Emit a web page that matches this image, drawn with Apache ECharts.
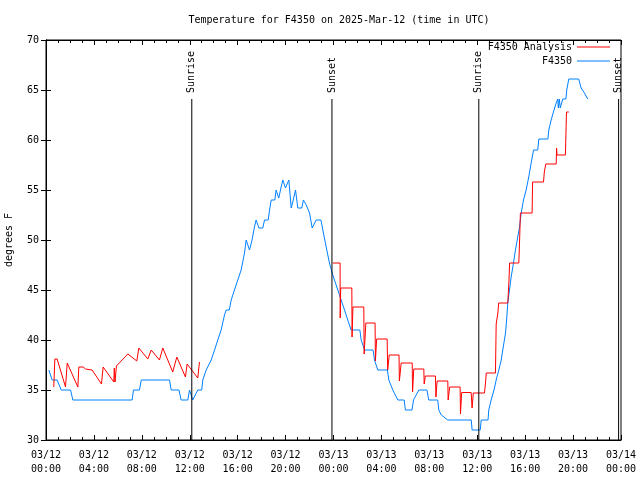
<!DOCTYPE html>
<html>
<head>
<meta charset="utf-8">
<script src="https://cdn.jsdelivr.net/npm/echarts@6/dist/echarts.min.js"></script>
<style>html,body{margin:0;padding:0;background:#fff}#c{width:640px;height:480px}</style>
</head>
<body>
<div id="c"></div>
<script>
// Hours since 2025-03-12 00:00 UTC
var xTickLabels = ['03/12\n00:00','03/12\n04:00','03/12\n08:00','03/12\n12:00','03/12\n16:00','03/12\n20:00','03/13\n00:00','03/13\n04:00','03/13\n08:00','03/13\n12:00','03/13\n16:00','03/13\n20:00','03/14\n00:00'];

var obsHours = [0.24,0.51,0.93,1.27,2.05,2.24,7.19,7.3,7.8,7.95,10.31,10.45,11.1,11.28,11.84,11.98,12.1,12.25,12.4,12.67,13.0,13.09,13.37,13.79,14.07,14.34,14.62,14.9,15.04,15.3,15.46,15.73,16.01,16.29,16.57,16.71,16.99,17.2,17.4,17.54,17.77,18.1,18.24,18.55,18.66,18.8,19.1,19.21,19.43,19.63,19.77,19.99,20.27,20.47,20.6,20.83,21.02,21.35,21.49,21.72,22.0,22.22,22.55,22.95,23.11,23.39,23.66,23.94,24.22,24.36,24.64,24.92,25.19,25.47,26.2,26.31,26.59,27.3,27.42,27.7,28.5,28.62,28.95,29.37,29.9,30.0,30.55,30.68,30.9,31.12,31.8,31.95,32.7,32.79,33.0,33.54,35.5,35.57,36.25,36.33,36.9,36.96,37.16,37.4,37.58,37.8,38.0,38.13,38.36,38.47,38.55,38.69,38.83,38.97,39.19,39.38,39.52,39.67,39.86,40.08,40.3,40.5,40.7,41.05,41.14,41.9,41.97,42.17,42.36,42.59,42.72,42.77,42.85,42.93,43.14,43.4,43.47,43.64,44.47,44.67,44.95,45.22];
var obsTemps = [37,36,36,35,35,34,34,35,35,36,36,35,35,34,34,35,35,34,34,35,35,36,37,38,39,40,41,42.5,43,43,44,45,46,47,48.7,50,49,50,51.3,52,51.2,51.2,52,52,53,54,54,55,54.2,55.3,56,55.2,56,53.2,53.8,55,53.2,53.2,54,53.5,52.7,51.2,52,52,51,49.3,47.7,46.5,45.5,45,44,43,42,41,41,40,39,39,38,37,37,36,35,34,34,33,33,34,34.5,35,35,34,34,33,32.5,32,32,31,31,32,32,33,34,35,36,37,38,39,40.7,42.3,43.7,45,46.3,47.3,49,50.3,51.2,52.7,54,55,56.3,57.7,59,59,60.1,60.1,61,62,62.8,63.7,64.1,63.2,64.1,63.2,64.1,64.1,65,66.1,66.1,65.2,64.7,64.1];

var anaDayHours = [0.65,0.74,0.93,1.63,1.77,2.66,2.74,3.1,3.3,3.85,4.63,4.77,4.9,5.66,5.7,5.76,5.88,6.83,7.58,7.75,7.9,8.5,8.78,9.47,9.62,9.75,10.58,10.92,11.64,11.78,12.67,12.81];
var anaDayTemps = [35.3,38.1,38.1,35.3,37.7,35.3,37.3,37.3,37.1,37.0,35.6,37.3,37.3,35.8,37.2,35.8,37.4,38.6,37.9,39.2,39.2,38.1,39.0,38.0,38.1,39.2,36.8,38.3,36.3,37.6,36.2,37.8];

var anaNightHours = [23.94,24.55,24.56,24.6,25.53,25.55,25.62,26.53,26.56,26.7,27.47,27.5,27.6,28.48,28.52,28.65,29.47,29.5,29.65,30.57,30.6,30.7,31.54,31.57,31.67,32.51,32.55,32.65,33.54,33.57,33.7,34.57,34.6,34.7,35.49,35.57,35.67,36.6,36.69,36.75,37.52,37.58,37.66,37.72,37.79,38.55,38.65,38.7,39.47,39.55,39.6,40.58,40.62,41.53,41.6,41.72,42.59,42.62,42.66,43.36,43.45,43.64];
var anaNightTemps = [47.7,47.7,42.2,45.2,45.2,40.3,43.3,43.3,38.6,41.7,41.7,37.9,40.1,40.1,37.0,38.5,38.5,35.9,37.7,37.7,34.8,37.1,37.1,35.6,36.4,36.4,34.3,35.9,35.9,34.0,35.3,35.3,32.6,34.75,34.75,33.2,34.7,34.7,35.7,36.7,36.7,41.6,41.7,42.7,43.7,43.7,46.0,47.7,47.7,50.5,52.7,52.7,55.8,55.8,56.8,57.6,57.6,59.2,58.5,58.5,62.8,62.8];

var sunHours = [12.17, 23.87, 36.13, 47.8];
var sunNames = ['Sunrise', 'Sunset', 'Sunrise', 'Sunset'];
var sunLineTop = 64.1;
var sunLabelAt = 64.7;

function pairs(xs, ys) { return xs.map(function (x, i) { return [x, ys[i]]; }); }

var FONT = 'DejaVu Sans Mono';
var series = [
  { name: 'F4350 Analysis', type: 'line', data: pairs(anaDayHours, anaDayTemps), showSymbol: false, symbol: 'none', lineStyle: { color: '#ff0000', width: 1 }, itemStyle: { color: '#ff0000' }, z: 3 },
  { name: 'F4350 Analysis', type: 'line', data: pairs(anaNightHours, anaNightTemps), showSymbol: false, symbol: 'none', lineStyle: { color: '#ff0000', width: 1 }, itemStyle: { color: '#ff0000' }, z: 3 },
  { name: 'F4350', type: 'line', data: pairs(obsHours, obsTemps), showSymbol: false, symbol: 'none', lineStyle: { color: '#0080ff', width: 1 }, itemStyle: { color: '#0080ff' }, z: 2 }
];
sunHours.forEach(function (h, i) {
  series.push({ name: 'sun' + i, type: 'line', data: [[h, 30], [h, sunLineTop]], showSymbol: false, symbol: 'none', lineStyle: { color: '#000', width: 1 }, silent: true, z: 4 });
});
series.push({
  name: 'sunlabels', type: 'scatter', symbolSize: 1, itemStyle: { opacity: 0 }, silent: true,
  data: sunHours.map(function (h, i) { return { value: [h, sunLabelAt], name: sunNames[i] }; }),
  label: { show: true, position: 'inside', rotate: 90, align: 'left', verticalAlign: 'middle', formatter: function (p) { return p.name; }, color: '#000', fontFamily: FONT, fontSize: 10, opacity: 1 }
});

var xBase = {
  type: 'value', min: 0, max: 48, interval: 4,
  axisLine: { show: true, lineStyle: { color: '#000', width: 1 } },
  axisTick: { show: true, inside: true, length: 5, lineStyle: { color: '#000' } },
  minorTick: { show: true, splitNumber: 4, length: 3, lineStyle: { color: '#000' } },
  splitLine: { show: false }
};
var yBase = {
  type: 'value', min: 30, max: 70, interval: 5,
  axisLine: { show: true, lineStyle: { color: '#000', width: 1 } },
  axisTick: { show: true, inside: true, length: 5, lineStyle: { color: '#000' } },
  splitLine: { show: false }
};

var chart = echarts.init(document.getElementById('c'), null, { renderer: 'canvas' });
chart.setOption({
  animation: false,
  backgroundColor: '#fff',
  title: { text: 'Temperature for F4350 on 2025-Mar-12 (time in UTC)', left: 334, top: 10, textAlign: 'center', textStyle: { fontFamily: FONT, fontSize: 10, fontWeight: 'normal', color: '#000' } },
  legend: {
    data: ['F4350 Analysis', 'F4350'], orient: 'vertical', right: 25, top: 37, align: 'right',
    itemWidth: 33, itemHeight: 12, itemGap: 4, icon: 'path://M0,6 L33,6 L33,7 L0,7 Z',
    textStyle: { fontFamily: FONT, fontSize: 10, color: '#000', padding: [0, 0, 0, 0] },
    selectedMode: false
  },
  grid: { left: 46, top: 40, width: 575, height: 400, show: true, borderColor: '#000', borderWidth: 1, backgroundColor: 'transparent', containLabel: false, outerBoundsMode: 'none' },
  xAxis: [
    Object.assign({}, xBase, { position: 'bottom', axisLabel: { show: true, margin: 8, lineHeight: 14, color: '#000', fontFamily: FONT, fontSize: 10, formatter: function (v) { return xTickLabels[Math.round(v / 4)]; } } }),
    Object.assign({}, xBase, { position: 'top', axisLabel: { show: false } })
  ],
  yAxis: [
    Object.assign({}, yBase, { position: 'left', name: 'degrees F', nameLocation: 'middle', nameGap: 32, nameRotate: 90, nameTextStyle: { fontFamily: FONT, fontSize: 10, color: '#000' }, axisLabel: { show: true, margin: 7, color: '#000', fontFamily: FONT, fontSize: 10 } }),
    Object.assign({}, yBase, { position: 'right', axisLabel: { show: false } })
  ],
  series: series
});
</script>
</body>
</html>
